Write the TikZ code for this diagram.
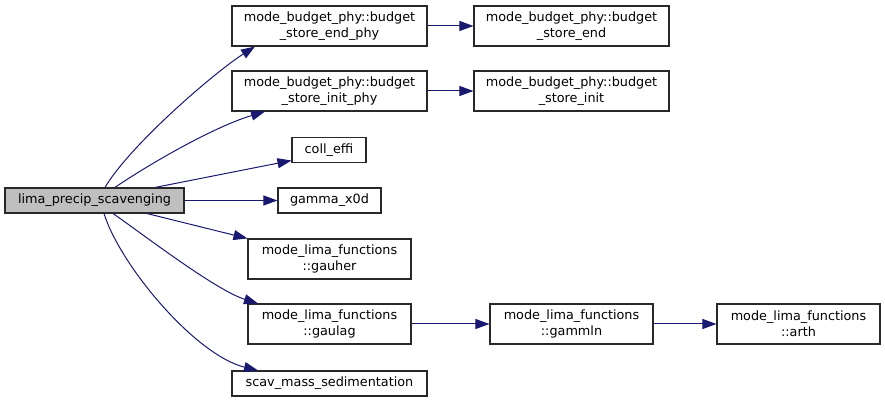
\documentclass[tikz,border=0pt]{standalone}
\usepackage{fontspec}
\setmainfont{DejaVu Sans}
\usetikzlibrary{arrows.meta}
\definecolor{edgecol}{RGB}{25,25,112}
\definecolor{boxgray}{RGB}{191,191,191}
\definecolor{boxline}{RGB}{40,40,40}
\tikzset{
  fn/.style={draw=boxline, line width=0.8pt, fill=white, inner sep=0pt, align=center,
    font=\fontsize{9.6pt}{12pt}\selectfont, minimum height=30pt},
  fnone/.style={fn, minimum height=18.75pt},
  fnmain/.style={fnone, fill=boxgray},
  call/.style={draw=edgecol, line width=0.75pt, -{Triangle[length=10.5pt,width=7.5pt]}}
}
\begin{document}
\begin{tikzpicture}[x=0.75pt,y=-0.75pt]
\useasboundingbox (0,0) rectangle (885,402);
\node[fnmain, minimum width=134.25pt] (main) at (94.5,200.5) {lima\_precip\_scavenging};
\node[fn, minimum width=146.25pt] (endphy) at (329.5,26) {mode\_budget\_phy::budget\\\_store\_end\_phy};
\node[fn, minimum width=146.25pt] (initphy) at (329.5,91) {mode\_budget\_phy::budget\\\_store\_init\_phy};
\node[fnone, minimum width=55.5pt] (coll) at (329,150) {coll\_effi};
\node[fnone, minimum width=77.25pt] (gamma) at (329.5,200.5) {gamma\_x0d};
\node[fn, minimum width=122.25pt] (gauher) at (329.5,259) {mode\_lima\_functions\\::gauher};
\node[fn, minimum width=122.25pt] (gaulag) at (329.5,324) {mode\_lima\_functions\\::gaulag};
\node[fnone, minimum width=146.25pt] (scav) at (329.5,383.5) {scav\_mass\_sedimentation};
\node[fn, minimum width=146.25pt] (storeend) at (571.5,26) {mode\_budget\_phy::budget\\\_store\_end};
\node[fn, minimum width=146.25pt] (storeinit) at (571.5,91) {mode\_budget\_phy::budget\\\_store\_init};
\node[fn, minimum width=122.25pt] (gammln) at (571.5,324) {mode\_lima\_functions\\::gammln};
\node[fn, minimum width=122.25pt] (arth) at (798.5,324) {mode\_lima\_functions\\::arth};

\draw[call] ([xshift=7.875pt]main.north) .. controls (130,145) and (215,72) .. ([xshift=-55.875pt]endphy.south);
\draw[call] ([xshift=15.375pt]main.north) .. controls (140,170) and (210,128) .. ([xshift=-48.375pt]initphy.south);
\draw[call] ([xshift=45.375pt]main.north) -- ([yshift=-7.875pt]coll.west);
\draw[call] (main.east) -- (gamma.west);
\draw[call] ([xshift=39.375pt]main.south) -- (gauher.north west);
\draw[call] ([xshift=13.875pt]main.south) .. controls (140,232) and (215,290) .. ([xshift=-53.625pt]gaulag.north);
\draw[call] ([xshift=7.125pt]main.south) .. controls (120,265) and (195,355) .. ([xshift=-53.625pt]scav.north);
\draw[call] (endphy.east) -- (storeend.west);
\draw[call] (initphy.east) -- (storeinit.west);
\draw[call] (gaulag.east) -- (gammln.west);
\draw[call] (gammln.east) -- (arth.west);
\end{tikzpicture}
\end{document}
